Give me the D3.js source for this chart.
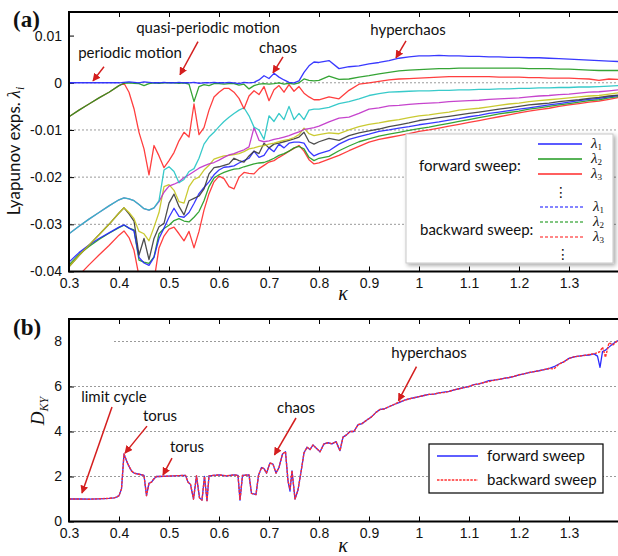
<!DOCTYPE html>
<html><head><meta charset="utf-8">
<script src="https://cdn.jsdelivr.net/npm/d3@7"></script>
<style>body{margin:0;background:#fff;} svg{display:block;}</style>
</head><body><svg id="c" width="618" height="556"></svg>
<script>
// ---------- DATA (panel a) : Lyapunov exponents in units of 1e-3 ----------
const kappa = [0.30,0.32,0.34,0.36,0.38,0.40,
0.41,0.42,0.43,0.44,0.45,0.46,0.47,0.48,0.49,0.50,
0.51,0.52,0.53,0.54,0.55,0.56,0.57,0.58,0.59,0.60,
0.61,0.62,0.63,0.64,0.65,0.66,0.67,0.68,0.69,0.70,
0.71,0.72,0.73,0.74,0.75,0.76,0.77,0.78,0.79,0.80,
0.82,0.84,0.86,0.88,0.90,0.92,0.94,0.96,0.98,1.00,
1.02,1.04,1.06,1.08,1.10,1.12,1.14,1.16,1.18,1.20,
1.22,1.24,1.26,1.28,1.30,1.32,1.34,1.36,1.38,1.40];
const lambda1 = [0,0,0,0,0,0,
0.1,0.2,0.1,0,0.2,0.1,0,0,0.1,0,
0,0.1,0,0,0.1,-0.1,0,0,0.1,0,
0,0.1,0,-0.2,0.1,0,0.1,0.6,1.5,0.9,
2.0,1.2,0.6,0.1,0,0.4,2.2,3.6,4.4,4.3,
4.7,3.0,3.4,3.6,4.0,4.3,4.7,5.2,5.5,5.7,
5.7,5.8,5.7,5.7,5.6,5.6,5.5,5.5,5.4,5.4,
5.3,5.3,5.2,5.1,5.0,4.9,4.8,4.7,4.6,4.5];
const lambda2 = [-7.2,-5.8,-4.5,-3.2,-2.0,-0.6,
-0.1,0,-0.1,-0.2,-0.6,-0.2,0,-0.1,0,0,
0,-0.1,0,-0.3,-4.0,-0.8,-0.4,-0.6,-0.2,-0.2,
-0.3,-0.2,-0.2,-0.5,-0.3,-1.3,-0.6,-0.3,-0.2,-0.3,
-0.2,0,-0.3,-0.1,-0.3,0,0.8,0.5,0.4,0.5,
1.4,0.7,0.8,1.2,1.5,1.9,2.2,2.5,2.7,2.8,
2.9,3.0,3.0,3.1,3.1,3.1,3.1,3.1,3.1,3.1,
3.0,3.0,3.0,2.9,2.9,2.8,2.7,2.6,2.6,2.6];
const lambda3 = [-7.2,-5.8,-4.5,-3.2,-2.0,-0.6,
-0.1,-2.0,-5.5,-10.5,-14.0,-19.5,-13.3,-15.5,-18.0,-16.5,
-14.8,-12.3,-10.5,-11.5,-4.5,-11.0,-9.5,-5.8,-3.0,-2.0,
-1.2,-1.2,-2.0,-3.3,-5.5,-2.8,-1.7,-2.5,-0.8,-3.8,
-1.5,-0.6,-2.0,-0.4,-1.8,-0.8,-2.2,-3.0,-3.6,-3.6,
-3.0,-3.4,-1.6,-0.3,0.0,0.3,0.6,0.8,0.9,1.0,
1.1,1.2,1.3,1.3,1.3,1.3,1.3,1.2,1.2,1.2,
1.1,1.1,1.0,1.0,1.0,0.9,0.8,0.5,0.8,0.7];
const lambda4 = [-32.0,-30.4,-28.9,-27.5,-26.1,-24.8,
-24.4,-24.6,-25.0,-25.8,-26.7,-27.0,-26.5,-25.0,-18.5,-17.8,
-18.8,-21.2,-20.5,-18.8,-18.2,-16.0,-13.0,-11.5,-10.5,-9.3,
-8.2,-7.3,-6.5,-5.8,-5.3,-7.0,-9.4,-10.0,-12.0,-7.0,
-8.2,-6.5,-7.8,-5.0,-7.8,-6.5,-7.8,-5.8,-5.6,-5.6,
-5.2,-4.4,-4.0,-3.4,-2.7,-2.3,-2.0,-1.9,-1.8,-1.7,
-1.7,-1.6,-1.6,-1.5,-1.5,-1.4,-1.4,-1.3,-1.3,-1.2,
-1.2,-1.1,-1.1,-1.0,-1.0,-0.9,-0.9,-0.8,-0.7,-0.6];
const lambda5 = [-32.0,-30.4,-28.9,-27.5,-26.1,-24.8,
-24.4,-24.6,-25.0,-25.8,-26.7,-27.0,-26.5,-25.2,-23.2,-21.9,
-21.5,-21.0,-20.1,-19.5,-18.8,-18.1,-17.6,-17.2,-16.9,-16.4,
-15.8,-15.3,-15.0,-14.6,-14.2,-13.6,-9.5,-12.2,-12.5,-12.3,
-12.0,-11.8,-11.5,-11.2,-10.8,-10.4,-9.9,-9.7,-9.5,-9.2,
-8.3,-7.5,-7.3,-6.5,-5.6,-5.3,-4.9,-4.8,-4.6,-4.4,
-4.3,-4.2,-4.0,-3.9,-3.8,-3.7,-3.5,-3.4,-3.3,-3.2,
-3.0,-2.8,-2.7,-2.5,-2.4,-2.2,-2.0,-1.9,-1.7,-1.5];
const lambda6 = [-39.0,-36.6,-34.4,-32.2,-30.0,-27.6,
-26.5,-27.5,-28.8,-31.5,-32.0,-33.5,-30.6,-27.5,-22.0,-21.6,
-22.8,-25.2,-25.5,-22.0,-20.5,-20.0,-18.5,-17.5,-16.2,-15.8,
-15.5,-15.4,-15.2,-15.0,-14.6,-14.0,-13.8,-13.5,-13.3,-13.0,
-12.8,-12.5,-12.2,-12.0,-11.6,-11.0,-9.6,-10.8,-11.2,-11.0,
-10.6,-10.8,-10.0,-9.3,-8.8,-8.5,-8.1,-7.8,-7.4,-7.0,
-6.8,-6.5,-6.2,-5.8,-5.6,-5.4,-5.1,-4.8,-4.5,-4.3,
-4.0,-3.8,-3.6,-3.4,-3.2,-3.0,-2.8,-2.7,-2.4,-2.1];
const lambda7 = [-39.0,-36.6,-34.4,-32.2,-30.0,-27.6,
-26.5,-27.8,-29.3,-36.5,-33.0,-37.5,-33.0,-30.5,-29.8,-25.5,
-23.6,-26.2,-28.0,-25.0,-24.5,-24.0,-22.5,-19.3,-18.0,-17.8,
-17.5,-17.2,-16.0,-16.5,-16.8,-15.5,-14.5,-15.0,-12.8,-13.8,
-13.0,-12.8,-12.5,-12.2,-11.9,-11.5,-10.5,-12.5,-13.0,-12.5,
-11.8,-12.2,-11.2,-10.6,-10.2,-9.8,-9.3,-8.9,-8.5,-8.0,
-7.7,-7.4,-7.1,-6.8,-6.5,-6.2,-5.9,-5.6,-5.3,-5.0,
-4.7,-4.5,-4.3,-4.0,-3.8,-3.6,-3.3,-3.1,-2.8,-2.6];
const lambda8 = [-38.0,-36.0,-34.4,-33.0,-31.8,-30.6,
-30.1,-30.8,-31.4,-37.0,-38.2,-38.7,-37.0,-33.0,-30.8,-28.5,
-26.6,-28.3,-28.5,-27.5,-25.6,-23.5,-22.2,-21.0,-19.5,-18.5,
-17.9,-17.8,-17.6,-17.0,-16.5,-16.0,-14.5,-15.8,-15.4,-13.8,
-14.6,-13.0,-13.8,-12.8,-12.6,-12.6,-12.8,-14.5,-15.5,-15.0,
-14.4,-13.0,-12.0,-11.4,-10.9,-10.3,-10.0,-9.6,-9.3,-8.9,
-8.6,-8.3,-7.9,-7.6,-7.2,-6.9,-6.5,-6.2,-5.9,-5.6,
-5.3,-5.0,-4.7,-4.4,-4.1,-3.8,-3.5,-3.3,-3.0,-2.7];
const lambda9 = [-38.6,-36.4,-34.7,-33.2,-31.9,-30.7,
-30.2,-30.8,-31.2,-37.6,-38.0,-38.3,-36.9,-32.0,-30.9,-30.2,
-29.2,-28.8,-29.3,-29.5,-28.5,-27.3,-25.0,-22.0,-20.2,-19.5,
-19.0,-18.6,-18.3,-18.2,-17.8,-17.5,-17.2,-17.0,-16.9,-16.5,
-16.0,-15.4,-15.0,-14.5,-13.8,-13.5,-14.0,-15.8,-16.5,-16.0,
-15.6,-14.4,-13.4,-12.5,-11.9,-11.3,-10.9,-10.5,-10.1,-9.7,
-9.4,-9.0,-8.6,-8.2,-7.8,-7.4,-7.0,-6.6,-6.3,-6.0,
-5.6,-5.3,-5.0,-4.7,-4.4,-4.1,-3.8,-3.6,-3.2,-2.9];
const lambda10 = [-43.0,-40.8,-38.6,-36.5,-34.5,-32.3,
-31.4,-32.8,-35.5,-41.0,-43.0,-44.0,-42.0,-35.0,-32.5,-31.0,
-30.6,-32.0,-33.5,-31.5,-35.0,-31.5,-27.0,-23.5,-21.0,-19.8,
-20.3,-22.0,-22.5,-20.0,-19.0,-19.2,-19.3,-18.2,-17.5,-16.8,
-16.5,-15.8,-15.2,-14.5,-13.9,-13.3,-14.5,-16.3,-17.2,-17.0,
-16.2,-15.4,-14.4,-13.5,-12.6,-12.0,-11.6,-11.2,-10.8,-10.3,
-10.0,-9.6,-9.2,-8.8,-8.4,-8.0,-7.6,-7.2,-6.8,-6.4,
-6.0,-5.7,-5.4,-5.0,-4.7,-4.4,-4.1,-3.9,-3.5,-3.1];
const lambdaSeries = [lambda1,lambda2,lambda3,lambda4,lambda5,lambda6,lambda7,lambda8,lambda9,lambda10];

const xTicks = [0.3,0.4,0.5,0.6,0.7,0.8,0.9,1.0,1.1,1.2,1.3];
const xTickLabels = ["0.3","0.4","0.5","0.6","0.7","0.8","0.9","1","1.1","1.2","1.3"];
const yTicksA = [-40,-30,-20,-10,0,10];
const yTickLabelsA = ["-0.04","-0.03","-0.02","-0.01","0","0.01"];
const gridA = [-30,-20,-10,0];

// ---------- DATA (panel b) : Kaplan-Yorke dimension ----------
const kappaD = [0.300,0.320,0.340,0.360,0.380,0.390,0.395,0.400,0.405,0.410,
0.415,0.420,0.425,0.430,0.440,0.450,0.455,0.460,0.465,0.470,
0.475,0.480,0.500,0.520,0.533,0.538,0.543,0.549,0.555,0.561,
0.566,0.571,0.576,0.580,0.600,0.615,0.630,0.638,0.642,0.647,
0.660,0.665,0.674,0.679,0.685,0.690,0.695,0.702,0.708,0.714,
0.720,0.727,0.733,0.738,0.742,0.746,0.752,0.758,0.764,0.770,
0.776,0.782,0.788,0.795,0.802,0.810,0.818,0.826,0.834,0.842,
0.848,0.855,0.862,0.870,0.878,0.886,0.895,0.905,0.914,0.922,
0.930,0.940,0.950,0.960,0.970,0.980,0.990,1.000,1.010,1.020,
1.030,1.040,1.050,1.060,1.070,1.080,1.090,1.100,1.110,1.120,
1.130,1.140,1.150,1.160,1.170,1.180,1.190,1.200,1.210,1.220,
1.230,1.240,1.250,1.260,1.270,1.280,1.290,1.300,1.310,1.320,
1.330,1.340,1.350,1.357,1.362,1.367,1.373,1.380,1.388,1.395,
1.400];
const dkyForward = [1.00,1.00,0.99,1.01,1.03,1.05,1.08,1.15,1.45,3.00,
2.70,2.45,2.25,2.15,2.10,2.05,1.15,1.70,1.75,1.90,
2.00,2.00,2.02,2.04,2.05,1.75,1.65,1.00,2.03,1.05,
0.95,2.00,0.93,2.03,2.07,2.03,2.07,2.05,0.95,2.05,
2.07,1.25,1.20,2.05,2.40,2.35,2.15,2.60,2.55,2.15,
2.40,3.00,3.10,1.80,1.35,2.25,1.00,1.40,2.20,3.05,
3.30,3.20,3.40,3.25,3.10,3.45,3.50,3.45,3.55,3.15,
3.75,3.85,4.00,4.00,4.30,4.35,4.50,4.65,4.85,4.98,
5.00,5.10,5.20,5.28,5.38,5.45,5.50,5.55,5.60,5.65,
5.66,5.72,5.75,5.78,5.85,5.90,5.95,6.00,6.08,6.12,
6.18,6.26,6.28,6.32,6.36,6.40,6.45,6.52,6.56,6.62,
6.66,6.70,6.75,6.80,6.88,7.00,7.10,7.25,7.32,7.35,
7.38,7.40,7.45,7.35,6.85,7.55,7.62,7.75,7.90,8.00,
8.05];
const dkyBackward = [1.00,1.00,0.99,1.01,1.03,1.05,1.08,1.15,1.45,3.00,
2.70,2.45,2.25,2.15,2.10,2.05,1.15,1.70,1.75,1.90,
2.00,2.00,2.02,2.04,2.05,1.75,1.65,1.00,2.03,1.05,
0.95,2.00,0.93,2.03,2.07,2.03,2.07,2.05,0.95,2.05,
2.07,1.25,1.20,2.05,2.40,2.35,2.15,2.60,2.55,2.15,
2.40,3.00,3.10,1.80,1.45,2.25,1.00,1.40,2.20,3.05,
3.30,3.20,3.40,3.25,3.10,3.45,3.50,3.45,3.55,3.15,
3.75,3.85,4.00,4.00,4.30,4.35,4.50,4.65,4.85,4.98,
5.00,5.10,5.20,5.32,5.38,5.45,5.50,5.55,5.60,5.65,
5.66,5.72,5.73,5.78,5.85,5.90,5.95,6.00,6.08,6.12,
6.18,6.22,6.28,6.32,6.36,6.40,6.45,6.52,6.56,6.62,
6.66,6.70,6.75,6.80,6.78,7.00,7.10,7.25,7.32,7.35,
7.38,7.42,7.45,7.50,7.55,7.75,7.30,7.95,7.85,8.00,
8.05];
const yTicksB = [0,2,4,6,8];
const yTickLabelsB = ["0","2","4","6","8"];
const gridB = [2,4,6,8];

// annotations in data coordinates
const notesA = [
  {label:"periodic motion", k:0.422, v:5.3, k1:0.370, v1:3.4, k2:0.348, v2:0.4},
  {label:"quasi-periodic motion", k:0.578, v:10.6, k1:0.558, v1:8.7, k2:0.522, v2:1.7},
  {label:"chaos", k:0.718, v:6.3, k1:0.728, v1:5.5, k2:0.708, v2:2.1},
  {label:"hyperchaos", k:0.978, v:10.1, k1:0.974, v1:8.9, k2:0.954, v2:5.3}
];
const notesB = [
  {label:"limit cycle", k:0.390, v:5.33, k1:0.386, v1:5.09, k2:0.326, v2:1.27},
  {label:"torus", k:0.482, v:4.47, k1:0.456, v1:4.24, k2:0.412, v2:3.04},
  {label:"torus", k:0.536, v:3.09, k1:0.506, v1:2.82, k2:0.488, v2:2.07},
  {label:"chaos", k:0.754, v:4.82, k1:0.754, v1:4.60, k2:0.711, v2:2.96},
  {label:"hyperchaos", k:1.020, v:7.27, k1:0.995, v1:6.88, k2:0.959, v2:5.37}
];

// ---------- DRAWING ----------
const colorsA = ["#2424ff","#1f9a1f","#ff2a2a","#22c4c4","#c030c8","#c4c41c","#3a3a3a","#2424ff","#1f9a1f","#ff2a2a"];
const sans = "Lato, 'Liberation Sans', Arial, sans-serif";
const arial = "'Liberation Sans', Arial, sans-serif";
const serif = "'Liberation Serif', 'DejaVu Serif', serif";
const arrowRed = "#d41e1e";

const svg = d3.select("#c");
const defs = svg.append("defs");
defs.append("marker").attr("id","arr").attr("viewBox","0 0 10 10")
  .attr("refX",9).attr("refY",5).attr("markerWidth",8).attr("markerHeight",8)
  .attr("markerUnits","userSpaceOnUse").attr("orient","auto")
  .append("path").attr("d","M0,0 L10,5 L0,10 Z").attr("fill",arrowRed);
const f = defs.append("filter").attr("id","shadow").attr("x","-10%").attr("y","-10%").attr("width","130%").attr("height","130%");
f.append("feDropShadow").attr("dx",2).attr("dy",2).attr("stdDeviation",2).attr("flood-color","#000").attr("flood-opacity",0.35);

const x = d3.scaleLinear().domain([0.3,1.4]).range([69,619]);
const yA = d3.scaleLinear().domain([-40,15]).range([271.5,12]);
const yB = d3.scaleLinear().domain([0,9]).range([521.5,319]);

defs.append("clipPath").attr("id","clipA").append("rect").attr("x",69).attr("y",12).attr("width",550).attr("height",259.5);
defs.append("clipPath").attr("id","clipB").append("rect").attr("x",69).attr("y",319).attr("width",550).attr("height",202.5);

function styleAxis(g, size){
  g.attr("font-family",arial).attr("font-size",size);
  g.select(".domain").remove();
  g.selectAll(".tick line").attr("stroke","#000").attr("stroke-width",1);
  g.selectAll(".tick text").style("font-family",arial).style("font-size",size).attr("fill","#111");
}

function panel(yScale, yTicks, yLabels, grid, top, bottom){
  svg.append("g").selectAll("line").data(grid).join("line")
    .attr("x1",70).attr("x2",618).attr("y1",d=>yScale(d)).attr("y2",d=>yScale(d))
    .attr("stroke","#9a9a9a").attr("stroke-width",1).attr("stroke-dasharray","2,2");
  const gx = svg.append("g").attr("transform",`translate(0,${bottom})`)
    .call(d3.axisBottom(x).tickValues(xTicks).tickFormat((d,i)=>xTickLabels[i]).tickSizeInner(-5).tickSizeOuter(0).tickPadding(7));
  styleAxis(gx, "14px");
  const gt = svg.append("g").attr("transform",`translate(0,${top})`)
    .call(d3.axisTop(x).tickValues(xTicks).tickFormat("").tickSizeInner(-5).tickSizeOuter(0));
  styleAxis(gt, "14px");
  const gy = svg.append("g").attr("transform","translate(69,0)")
    .call(d3.axisLeft(yScale).tickValues(yTicks).tickFormat((d,i)=>yLabels[i]).tickSizeInner(-5).tickSizeOuter(0).tickPadding(7));
  styleAxis(gy, "14px");
}

// ---- panel (a)
panel(yA, yTicksA, yTickLabelsA, gridA, 12, 271.5);
const lineA = d3.line().x((d,i)=>x(kappa[i])).y(d=>yA(d));
const gLines = svg.append("g").attr("clip-path","url(#clipA)");
for (let s = lambdaSeries.length-1; s >= 0; s--) {
  gLines.append("path").attr("d",lineA(lambdaSeries[s])).attr("fill","none")
    .attr("stroke",colorsA[s]).attr("stroke-width",1.3).attr("stroke-opacity",0.9)
    .attr("stroke-linejoin","round");
}
svg.append("path").attr("d",`M620,12 H69 V271.5 H620`).attr("fill","none").attr("stroke","#000").attr("stroke-width",2);

function notes(list, yScale){
  const g = svg.append("g");
  list.forEach(n=>{
    g.append("text").attr("x",x(n.k)).attr("y",yScale(n.v)).attr("text-anchor","middle")
      .attr("font-family",sans).attr("font-size","15px").attr("fill","#111").text(n.label);
    g.append("line").attr("x1",x(n.k1)).attr("y1",yScale(n.v1)).attr("x2",x(n.k2)).attr("y2",yScale(n.v2))
      .attr("stroke",arrowRed).attr("stroke-width",1.5).attr("marker-end","url(#arr)");
  });
}
notes(notesA, yA);

// legend a
const lg = svg.append("g");
lg.append("rect").attr("x",406).attr("y",134).attr("width",207).attr("height",129)
  .attr("fill","#fff").attr("stroke","#c8c8c8").attr("stroke-width",1).attr("filter","url(#shadow)");
lg.append("text").attr("x",419).attr("y",171).attr("font-family",sans).attr("font-size","15px").attr("fill","#111").text("forward sweep:");
lg.append("text").attr("x",420).attr("y",235).attr("font-family",sans).attr("font-size","15px").attr("fill","#111").text("backward sweep:");
const legRowsF = [144,159,174], legRowsB = [207,222,237];
function lam(xp, yp, i){
  const t = lg.append("text").attr("x",xp).attr("y",yp).attr("font-family",serif).attr("font-size","12.5px").attr("font-style","italic").attr("fill","#111");
  t.append("tspan").attr("font-size","15px").text("λ");
  t.append("tspan").attr("font-size","9px").attr("font-style","normal").attr("dy",2).text(String(i+1));
}
[0,1,2].forEach(i=>{
  lg.append("line").attr("x1",538).attr("x2",582).attr("y1",legRowsF[i]).attr("y2",legRowsF[i])
    .attr("stroke",colorsA[i]).attr("stroke-width",1.3);
  lg.append("line").attr("x1",540).attr("x2",583).attr("y1",legRowsB[i]).attr("y2",legRowsB[i])
    .attr("stroke",colorsA[i]).attr("stroke-width",1.3).attr("stroke-dasharray","3,2").attr("stroke-opacity",0.75);
  lam(591, legRowsF[i]+4, i);
  lam(593, legRowsB[i]+4, i);
});
lg.append("text").attr("x",561).attr("y",197).attr("text-anchor","middle").attr("font-family","'DejaVu Sans', sans-serif").attr("font-size","14px").attr("fill","#111").text("⋮");
lg.append("text").attr("x",563).attr("y",259).attr("text-anchor","middle").attr("font-family","'DejaVu Sans', sans-serif").attr("font-size","14px").attr("fill","#111").text("⋮");

svg.append("text").attr("x",13).attr("y",27).attr("font-family",serif).attr("font-weight","bold").attr("font-size","23px").attr("fill","#111").text("(a)");
const yl = svg.append("text").attr("transform","translate(20,151) rotate(-90)").attr("text-anchor","middle")
  .attr("font-family",sans).attr("font-size","17px").attr("fill","#111");
yl.append("tspan").text("Lyapunov exps. ");
yl.append("tspan").attr("font-family",serif).attr("font-style","italic").attr("font-size","18px").text("λ");
yl.append("tspan").attr("font-family",serif).attr("font-style","italic").attr("font-size","12px").attr("dy",4).text("i");
svg.append("text").attr("x",343).attr("y",300).attr("text-anchor","middle").attr("font-family",serif)
  .attr("font-style","italic").attr("font-size","20px").attr("fill","#111").text("κ");

// ---- panel (b)
panel(yB, yTicksB, yTickLabelsB, gridB, 319, 521.5);
svg.append("rect").attr("x",70).attr("y",yB(8)-2).attr("width",43).attr("height",4).attr("fill","#fff");
const lineB = d3.line().x((d,i)=>x(kappaD[i])).y(d=>yB(d));
const gB = svg.append("g").attr("clip-path","url(#clipB)");
gB.append("path").attr("d",lineB(dkyForward)).attr("fill","none").attr("stroke","#2a2aff").attr("stroke-width",1.3).attr("stroke-linejoin","round");
gB.append("path").attr("d",lineB(dkyBackward)).attr("fill","none").attr("stroke","#ff3030").attr("stroke-width",1.4).attr("stroke-dasharray","2.5,1.2").attr("stroke-linejoin","round");
svg.append("path").attr("d",`M620,319 H69 V521.5 H620`).attr("fill","none").attr("stroke","#000").attr("stroke-width",2);
notes(notesB, yB);

const lb = svg.append("g");
lb.append("rect").attr("x",429).attr("y",444).attr("width",174).attr("height",49).attr("fill","#fff").attr("stroke","#000").attr("stroke-width",1.2);
lb.append("line").attr("x1",437).attr("x2",478).attr("y1",456).attr("y2",456).attr("stroke","#2a2aff").attr("stroke-width",1.3);
lb.append("line").attr("x1",437).attr("x2",478).attr("y1",480).attr("y2",480).attr("stroke","#ff3030").attr("stroke-width",1.4).attr("stroke-dasharray","2.5,1.2");
lb.append("text").attr("x",487).attr("y",461).attr("font-family",sans).attr("font-size","15px").attr("fill","#111").text("forward sweep");
lb.append("text").attr("x",487).attr("y",485).attr("font-family",sans).attr("font-size","15px").attr("fill","#111").text("backward sweep");

svg.append("text").attr("x",13).attr("y",335).attr("font-family",serif).attr("font-weight","bold").attr("font-size","23px").attr("fill","#111").text("(b)");
const dl = svg.append("text").attr("transform","translate(44,411) rotate(-90)").attr("text-anchor","middle")
  .attr("font-family",serif).attr("font-style","italic").attr("font-size","19px").attr("fill","#111");
dl.append("tspan").text("D");
dl.append("tspan").attr("font-size","12px").attr("dy",4).text("KY");
svg.append("text").attr("x",343).attr("y",552).attr("text-anchor","middle").attr("font-family",serif)
  .attr("font-style","italic").attr("font-size","20px").attr("fill","#111").text("κ");
</script>
</body></html>
